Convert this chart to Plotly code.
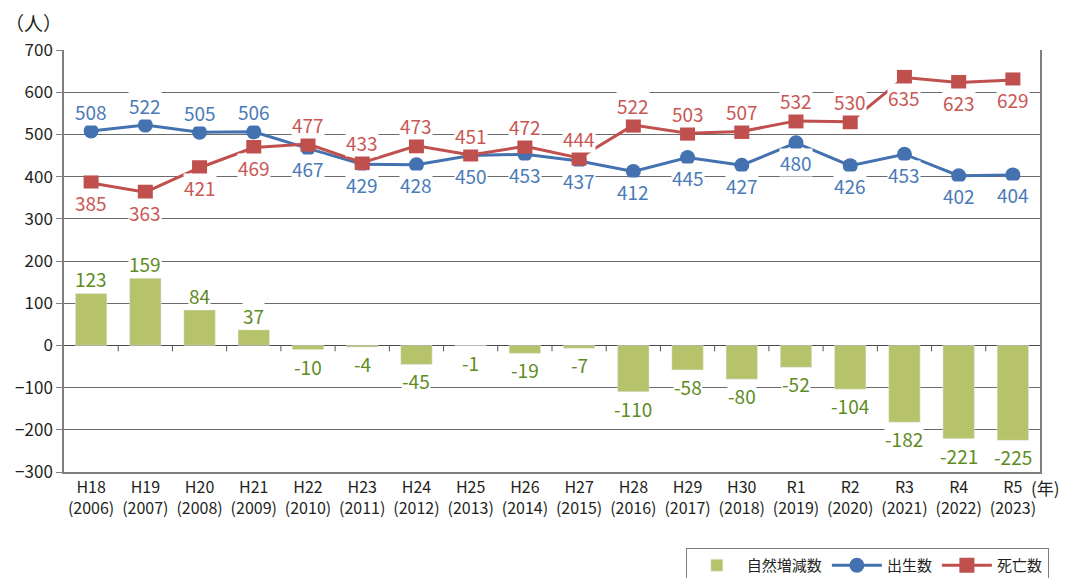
import plotly.graph_objects as go

categories = ["H18<br>(2006)", "H19<br>(2007)", "H20<br>(2008)", "H21<br>(2009)",
              "H22<br>(2010)", "H23<br>(2011)", "H24<br>(2012)", "H25<br>(2013)",
              "H26<br>(2014)", "H27<br>(2015)", "H28<br>(2016)", "H29<br>(2017)",
              "H30<br>(2018)", "R1<br>(2019)", "R2<br>(2020)", "R3<br>(2021)",
              "R4<br>(2022)", "R5<br>(2023)"]
births = [508, 522, 505, 506, 467, 429, 428, 450, 453, 437, 412, 445, 427, 480, 426, 453, 402, 404]
deaths = [385, 363, 421, 469, 477, 433, 473, 451, 472, 444, 522, 503, 507, 532, 530, 635, 623, 629]
natural = [123, 159, 84, 37, -10, -4, -45, -1, -19, -7, -110, -58, -80, -52, -104, -182, -221, -225]
# label placement: +1 above, -1 below
birth_pos = [1, 1, 1, 1, -1, -1, -1, -1, -1, -1, -1, -1, -1, -1, -1, -1, -1, -1]
death_pos = [-1, -1, -1, -1, 1, 1, 1, 1, 1, 1, 1, 1, 1, 1, 1, -1, -1, -1]

FONT = "Noto Sans CJK JP"
BAR_C = "#b7c36b"
BAR_T = "#5e8c1f"
BLUE = "#4472b0"
BLUE_T = "#4a7ab8"
RED = "#c0504d"
RED_T = "#c95754"

fig = go.Figure()
fig.add_trace(go.Bar(x=categories, y=natural, name="自然増減数", marker_color=BAR_C,
                     width=0.58, hoverinfo="skip"))
fig.add_trace(go.Scatter(x=categories, y=births, name="出生数", mode="lines+markers",
                         line=dict(color=BLUE, width=3),
                         marker=dict(symbol="circle", size=15, color=BLUE)))
fig.add_trace(go.Scatter(x=categories, y=deaths, name="死亡数", mode="lines+markers",
                         line=dict(color=RED, width=3),
                         marker=dict(symbol="square", size=15, color=RED)))

annotations = []
for c, v in zip(categories, natural):
    annotations.append(dict(x=c, y=v, text=str(v), showarrow=False,
                            yanchor="bottom" if v >= 0 else "top",
                            yshift=0 if v >= 0 else -2,
                            font=dict(family=FONT, size=19, color=BAR_T),
                            bgcolor="white", borderpad=0))
for c, v, p in zip(categories, births, birth_pos):
    annotations.append(dict(x=c, y=v, text=str(v), showarrow=False,
                            yshift=20 * p, font=dict(family=FONT, size=19, color=BLUE_T),
                            bgcolor="white", borderpad=0))
for c, v, p in zip(categories, deaths, death_pos):
    annotations.append(dict(x=c, y=v, text=str(v), showarrow=False,
                            yshift=20 * p, font=dict(family=FONT, size=19, color=RED_T),
                            bgcolor="white", borderpad=0))
annotations.append(dict(xref="paper", yref="paper", x=0, xshift=0, y=1.0, yshift=28,
                        xanchor="right", yanchor="middle", text="（人）", showarrow=False,
                        font=dict(family=FONT, size=19, color="#231f20")))
annotations.append(dict(xref="paper", yref="paper", x=1.0, xshift=-11, y=0, yshift=-15,
                        xanchor="left", yanchor="middle", text="(年)", showarrow=False,
                        font=dict(family=FONT, size=17, color="#231f20")))

# small category-boundary ticks along the zero line
shapes = []
for i in range(1, len(categories)):
    shapes.append(dict(type="line", xref="x", yref="y", x0=i - 0.5, x1=i - 0.5,
                       y0=0, y1=-14, line=dict(color="#555555", width=1)))

fig.update_layout(
    width=1065, height=578,
    margin=dict(l=64, r=25, t=50, b=106),
    plot_bgcolor="white", paper_bgcolor="white",
    font=dict(family=FONT, size=16, color="#231f20"),
    showlegend=True,
    legend=dict(orientation="h", xref="container", yref="container",
                x=0.644, y=0.052, xanchor="left", yanchor="top",
                bordercolor="#7f7f7f", borderwidth=1, bgcolor="white",
                font=dict(family=FONT, size=15, color="#231f20"),
                traceorder="normal", itemwidth=50),
    annotations=annotations,
    shapes=shapes,
)
fig.update_xaxes(type="category", range=[-0.5, len(categories) - 0.5],
                 showline=True, linecolor="#7f7f7f", linewidth=1.5, mirror=False,
                 ticks="", showgrid=False, tickangle=0, automargin=False,
                 tickfont=dict(family=FONT, size=16, color="#231f20"))
fig.update_yaxes(range=[-300, 700], dtick=100, showgrid=True, gridcolor="#6b6b6b",
                 gridwidth=1, zeroline=True, zerolinecolor="#4a4a4a", zerolinewidth=1,
                 showline=True, linecolor="#7f7f7f", linewidth=1.5, mirror=True,
                 ticks="outside", ticklen=6, tickcolor="#7f7f7f", automargin=False,
                 tickfont=dict(family=FONT, size=17, color="#231f20"))

fig.write_html("out.html", config={"displayModeBar": False},
               post_script="document.body.style.margin='0';document.body.style.overflow='hidden';")
